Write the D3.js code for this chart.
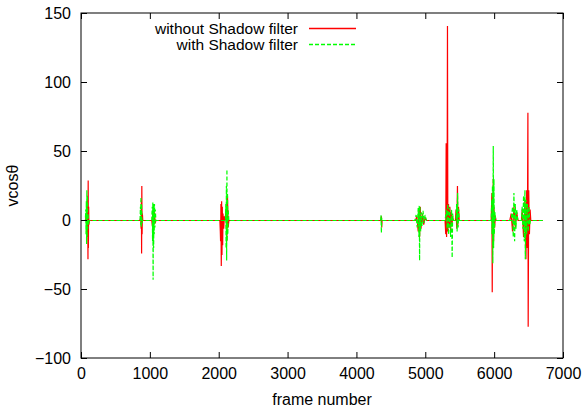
<!DOCTYPE html>
<html>
<head>
<meta charset="utf-8">
<script src="https://cdn.jsdelivr.net/npm/d3@7"></script>
<style>
  body { margin: 0; background: #fff; }
  svg { font-family: "Liberation Sans", Arial, sans-serif; }
</style>
</head>
<body>
<script>
let W = 584, H = 412;
let margin = {left: 81, right: 21, top: 13, bottom: 54};
let w = W - margin.left - margin.right;
let h = H - margin.top - margin.bottom;

let xTicks = [0, 1000, 2000, 3000, 4000, 5000, 6000, 7000];
let yTicks = [-100, -50, 0, 50, 100, 150];
let seriesNames = ["without Shadow filter", "with Shadow filter"];

// [frame, vcos]
let withoutFilter = [
  [10,0],[60,0],[66,4],[70,3],[75,-5],[80,8],[85,-12],[90,18],[94,-28],[97,29],[100,-20],[104,10],[108,-3],[115,0],
  [850,0],[860,2],[866,-6],[870,15],[873,-24],[876,25],[880,-10],[884,5],[890,0],
  [1020,0],[1030,-4],[1035,5],[1040,-10],[1045,8],[1050,-3],[1060,6],[1070,-2],[1080,0],
  [2010,0],[2016,-8],[2020,-15],[2025,12],[2030,-33],[2035,14],[2040,-25],[2045,10],[2050,-18],[2055,5],[2065,-6],[2075,3],[2085,0],
  [2100,8],[2110,-15],[2120,18],[2130,-5],[2140,0],
  [4350,0],[4355,3],[4360,-5],[4365,0],
  [4850,0],[4870,3],[4890,-8],[4900,8],[4910,-12],[4920,10],[4930,-6],[4950,5],[4970,-3],[4990,2],[5010,0],
  [5280,0],[5290,-10],[5296,56],[5302,-12],[5310,20],[5315,141],[5320,-8],[5330,12],[5340,-5],[5350,10],[5360,-8],[5370,6],[5380,-4],[5390,3],[5400,0],
  [5430,0],[5440,8],[5450,-6],[5460,25],[5465,-4],[5475,10],[5485,0],
  [5950,0],[5960,20],[5965,-52],[5970,18],[5975,-20],[5980,30],[5985,-15],[5990,10],[6000,-5],[6010,3],[6020,0],
  [6220,0],[6240,5],[6260,-8],[6280,10],[6300,-5],[6320,6],[6340,0],
  [6390,0],[6400,8],[6420,-12],[6440,15],[6455,-28],[6465,22],[6475,-20],[6483,78],[6487,-77],[6495,22],[6505,-10],[6515,8],[6525,0],[6700,0]
];

let withFilter = [
  [10,0],[55,0],[60,5],[62,8],[66,-10],[70,14],[74,-17],[78,22],[82,-12],[86,18],[90,-6],[95,5],[100,-3],[110,0],
  [850,0],[856,10],[860,-3],[864,17],[868,-5],[872,12],[878,-2],[885,0],
  [1020,0],[1024,6],[1028,10],[1032,-15],[1036,13],[1040,-43],[1044,12],[1048,-20],[1052,11],[1056,-10],[1060,12],[1066,-5],[1072,8],[1080,0],
  [2090,0],[2096,12],[2100,-20],[2104,25],[2108,-29],[2112,37],[2116,-15],[2120,20],[2125,-10],[2130,8],[2140,0],
  [4345,0],[4350,4],[4355,-9],[4360,2],[4365,0],
  [4840,0],[4860,4],[4875,-5],[4890,9],[4900,-12],[4905,11],[4910,-29],[4915,10],[4925,-8],[4935,6],[4945,-4],[4960,7],[4975,-2],[4990,4],[5010,0],
  [5280,0],[5300,8],[5310,-6],[5320,12],[5330,-10],[5345,9],[5360,-12],[5375,8],[5383,-27],[5390,5],[5400,0],
  [5440,0],[5448,12],[5455,-8],[5462,20],[5470,-5],[5478,8],[5485,0],
  [5950,0],[5958,15],[5962,-10],[5968,25],[5974,-31],[5980,54],[5985,-20],[5990,30],[5995,-10],[6005,6],[6015,0],
  [6240,0],[6260,10],[6270,-12],[6280,20],[6290,-15],[6300,12],[6310,-6],[6320,8],[6335,0],
  [6390,0],[6400,10],[6410,-6],[6420,18],[6430,-15],[6440,22],[6445,-28],[6455,15],[6465,-10],[6475,12],[6490,-8],[6500,10],[6510,-3],[6520,0],[6700,0]
];

let svg = d3.select("body").append("svg").attr("width", W).attr("height", H);
let chartGroup = svg.append("g").attr("transform", "translate(" + margin.left + "," + margin.top + ")");

let x = d3.scaleLinear().domain([0, 7000]).range([0, w]);
let y = d3.scaleLinear().domain([-100, 150]).range([h, 0]);

let line = d3.line().x(d => x(d[0])).y(d => y(d[1]));

// half-pixel shift keeps the zero line crisp
let dataGroup = chartGroup.append("g").attr("transform", "translate(0.5,0.5)");

dataGroup.append("path")
  .attr("d", line(withoutFilter))
  .attr("fill", "none")
  .attr("stroke", "#ff0000")
  .attr("stroke-width", 1.2);

dataGroup.append("path")
  .attr("d", line(withFilter))
  .attr("fill", "none")
  .attr("stroke", "#00ff00")
  .attr("stroke-width", 1.2)
  .attr("stroke-dasharray", "4,2");

// axes, ticks pointing inward on all four sides
let styleAxis = g => {
  g.select(".domain").remove();
  g.selectAll(".tick line").attr("stroke", "#000");
  g.selectAll("text").attr("font-size", 16).attr("fill", "#000");
};

chartGroup.append("g").attr("transform", "translate(0," + h + ")")
  .call(d3.axisBottom(x).tickValues(xTicks).tickFormat(d3.format("d")).tickSizeInner(-6).tickSizeOuter(0).tickPadding(10))
  .call(styleAxis);
chartGroup.append("g")
  .call(d3.axisTop(x).tickValues(xTicks).tickSizeInner(-6).tickSizeOuter(0).tickFormat(""))
  .call(styleAxis);
chartGroup.append("g")
  .call(d3.axisLeft(y).tickValues(yTicks).tickFormat(d3.format("d")).tickSizeInner(-6).tickSizeOuter(0).tickPadding(10))
  .call(styleAxis);
chartGroup.append("g").attr("transform", "translate(" + w + ",0)")
  .call(d3.axisRight(y).tickValues(yTicks).tickSizeInner(-6).tickSizeOuter(0).tickFormat(""))
  .call(styleAxis);

chartGroup.append("rect")
  .attr("width", w).attr("height", h)
  .attr("fill", "none").attr("stroke", "#000").attr("stroke-width", 1);

// axis titles
svg.append("text")
  .attr("x", margin.left + w / 2).attr("y", 405)
  .attr("text-anchor", "middle").attr("font-size", 16)
  .text("frame number");

svg.append("text")
  .attr("transform", "translate(18," + (margin.top + h / 2) + ") rotate(-90)")
  .attr("text-anchor", "middle").attr("font-size", 16)
  .text("vcosθ");

// legend
let legend = svg.append("g");
let legendColors = ["#ff0000", "#00ff00"];
seriesNames.forEach((name, i) => {
  let yy = 28.5 + i * 16;
  legend.append("text")
    .attr("x", 298).attr("y", yy + 5.5)
    .attr("text-anchor", "end").attr("font-size", 15.5)
    .text(name);
  legend.append("line")
    .attr("x1", 309).attr("x2", 356)
    .attr("y1", yy).attr("y2", yy)
    .attr("stroke", legendColors[i])
    .attr("stroke-width", 1.3)
    .attr("stroke-dasharray", i === 1 ? "4,2" : null);
});
</script>
</body>
</html>
